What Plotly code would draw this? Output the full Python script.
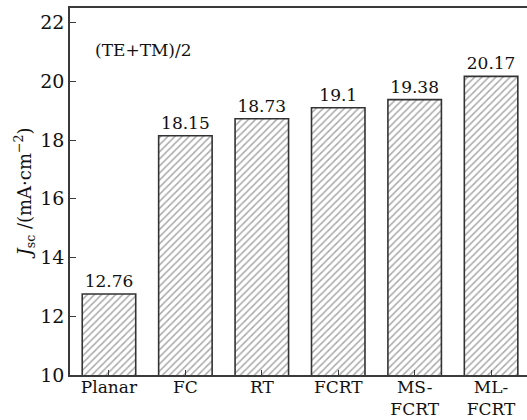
import plotly.graph_objects as go

categories = ["Planar", "FC", "RT", "FCRT", "MS-<br>FCRT", "ML-<br>FCRT"]
jsc_values = [12.76, 18.15, 18.73, 19.1, 19.38, 20.17]
y_ticks = [10, 12, 14, 16, 18, 20, 22]

FONT = "DejaVu Serif"
AXIS_COLOR = "#3a3a3a"

fig = go.Figure()
fig.add_trace(go.Bar(
    x=list(range(len(categories))),
    y=jsc_values,
    width=0.7,
    marker=dict(
        color="white",
        line=dict(color="#333333", width=1.6),
        pattern=dict(shape="/", fgcolor="#555555", bgcolor="white",
                     size=5, solidity=0.3),
    ),
    text=[str(v) for v in jsc_values],
    textposition="outside",
    textfont=dict(family=FONT, size=17, color="#111111"),
    cliponaxis=False,
    showlegend=False,
))

fig.add_annotation(
    x=0.05, y=0.885, xref="paper", yref="paper",
    text="(TE+TM)/2", showarrow=False, xanchor="left", yanchor="middle",
    font=dict(family=FONT, size=17, color="#111111"),
)

fig.update_layout(
    width=527, height=420,
    margin=dict(l=70, r=0, t=8, b=45),
    plot_bgcolor="white", paper_bgcolor="white",
    font=dict(family=FONT, size=17, color="#111111"),
    bargap=0.3,
)

fig.update_xaxes(
    range=[-0.51, 5.47],
    tickmode="array",
    tickvals=list(range(len(categories))),
    ticktext=categories,
    ticks="inside", ticklen=5, tickwidth=1.2, tickcolor=AXIS_COLOR,
    showline=True, linecolor=AXIS_COLOR, linewidth=1.6, mirror=True,
    showgrid=False, zeroline=False, automargin=False,
    ticklabelstandoff=-4,
    tickfont=dict(family=FONT, size=17),
)

fig.update_yaxes(
    range=[10, 22.5],
    tickvals=y_ticks,
    ticks="inside", ticklen=6, tickwidth=1.2, tickcolor=AXIS_COLOR,
    showline=True, linecolor=AXIS_COLOR, linewidth=1.6, mirror=True,
    showgrid=False, zeroline=False, automargin=False,
    tickfont=dict(family=FONT, size=19),
    title=dict(text="<i>J</i><sub>sc</sub> /(mA·cm<sup>−2</sup>)",
               font=dict(family=FONT, size=18), standoff=4),
)

fig.write_html("out.html")
